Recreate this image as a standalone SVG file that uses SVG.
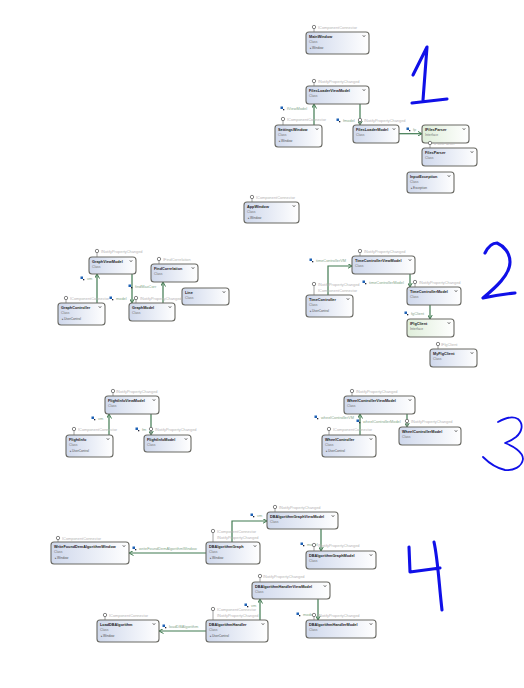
<svg xmlns="http://www.w3.org/2000/svg" width="524" height="688" viewBox="0 0 524 688">
<style>
text{font-family:"Liberation Sans",Arial,sans-serif}
.b{fill:url(#cg);stroke:#6a6a64;stroke-width:1.100}
.i{fill:url(#ig);stroke:#6a6a64;stroke-width:1.100}
.t{font-size:3.800px;font-weight:bold;fill:#222}
.s{font-size:3.400px;fill:#777}
.m{font-size:3.200px;fill:#555}
.l{font-size:3.900px;fill:#b5b5b5}
.c{font-size:3.900px;fill:#86a88c}
.w{fill:none;stroke:#3f7a50;stroke-width:1.200}
.h{fill:none;stroke:#1010e8;stroke-width:3.100;stroke-linecap:round;stroke-linejoin:round}
.n{stroke-width:1.800}
.p{fill:#fff;stroke:#666;stroke-width:.8}
.q{stroke:#888;stroke-width:.8}
.v{fill:none;stroke:#444;stroke-width:.7}
</style>
<defs>
<linearGradient id="cg"><stop offset="0" stop-color="#cfd8ec"/><stop offset="1" stop-color="#fff"/></linearGradient>
<linearGradient id="ig"><stop offset="0" stop-color="#dfeeda"/><stop offset="1" stop-color="#fff"/></linearGradient>
<marker id="a" markerWidth="5" markerHeight="5" refX="4.500" refY="2.500" orient="auto" markerUnits="userSpaceOnUse"><path d="M0 0L4.500 2.500L0 5" fill="none" stroke="#3f7a50" stroke-width="1"/></marker>
<g id="k"><rect x="-1.500" y="-1.500" width="2.500" height="2.500" fill="#1f62b5"/><rect x="1" y="1" width="1.300" height="1.300" fill="#223"/></g>
<path id="e" class="v" d="M-1.300 -.8L0 .8L1.300 -.8"/>
</defs>
<g id="connectors">
<path class="w" marker-end="url(#a)" d="M314 125V104"/>
<path class="w" marker-end="url(#a)" d="M360 104V125"/>
<path class="w" marker-end="url(#a)" d="M399 133.700H422"/>
<path class="w" marker-end="url(#a)" d="M97 303V274"/>
<path class="w" marker-end="url(#a)" d="M132 274V303"/>
<path class="w" marker-end="url(#a)" d="M163 303V282"/>
<path class="w" marker-end="url(#a)" d="M328 295V266H352"/>
<path class="w" marker-end="url(#a)" d="M410 274V287"/>
<path class="w" marker-end="url(#a)" d="M430 305V319"/>
<path class="w" marker-end="url(#a)" d="M109 435V414"/>
<path class="w" marker-end="url(#a)" d="M151 414V435"/>
<path class="w" marker-end="url(#a)" d="M360 435V414"/>
<path class="w" marker-end="url(#a)" d="M407 414V427"/>
<path class="w" marker-end="url(#a)" d="M206 553H129"/>
<path class="w" marker-end="url(#a)" d="M232 542V521H267"/>
<path class="w" marker-end="url(#a)" d="M206 631H159"/>
<path class="w" marker-end="url(#a)" d="M260 620V599"/>
<path class="w" marker-end="url(#a)" d="M321 529V551"/>
<path class="w" marker-end="url(#a)" d="M318 599V620"/>
<use href="#k" x="282" y="108"/><text class="c" x="287" y="109.500">fViewModel</text>
<use href="#k" x="338" y="120"/><text class="c" x="343" y="121.500">fmodel</text>
<use href="#k" x="408" y="129"/><text class="c" x="413" y="130.500">fp</text>
<use href="#k" x="82" y="278"/><text class="c" x="87" y="279.500">vm</text>
<use href="#k" x="130" y="286"/><text class="c" x="135" y="287.500">findMaxCorr</text>
<use href="#k" x="111" y="298"/><text class="c" x="116" y="299.500">model</text>
<use href="#k" x="311" y="260"/><text class="c" x="316" y="261.500">timeControllerVM</text>
<use href="#k" x="364" y="282"/><text class="c" x="369" y="283.500">timeControllerModel</text>
<use href="#k" x="406" y="313"/><text class="c" x="411" y="314.500">fgClient</text>
<use href="#k" x="93" y="418"/><text class="c" x="98" y="419.500">vm</text>
<use href="#k" x="137" y="429"/><text class="c" x="142" y="430.500">fm</text>
<use href="#k" x="316" y="417"/><text class="c" x="321" y="418.500">wheelControllerVM</text>
<use href="#k" x="358" y="421"/><text class="c" x="363" y="422.500">wheelControllerModel</text>
<use href="#k" x="134" y="548"/><text class="c" x="139" y="549.500">writeFoundDemAlgorithmWindow</text>
<use href="#k" x="252" y="515"/><text class="c" x="257" y="516.500">vm</text>
<use href="#k" x="164" y="626"/><text class="c" x="169" y="627.500">loadDBAlgorithm</text>
<use href="#k" x="246" y="605"/><text class="c" x="251" y="606.500">vm</text>
<use href="#k" x="302" y="544"/><text class="c" x="307" y="545.500">model</text>
<use href="#k" x="298" y="614"/><text class="c" x="303" y="615.500">model</text>
</g>
<g id="MainWindow"><path class="q" d="M314 27V32"/><circle class="p" cx="314" cy="27" r="1.700"/><text class="l" x="318" y="28.500">IComponentConnector</text><rect class="b" x="306" y="32" width="63" height="22" rx="3"/><text class="t" x="309" y="37.500">MainWindow</text><text class="s" x="309" y="43">Class</text><text class="m" x="310" y="48.500">▸Window</text><use href="#e" x="364" y="36"/></g>
<g id="FilesLoaderViewModel"><path class="q" d="M314 81V86"/><circle class="p" cx="314" cy="81" r="1.700"/><text class="l" x="318" y="82.500">INotifyPropertyChanged</text><rect class="b" x="306" y="86" width="63" height="18" rx="3"/><text class="t" x="309" y="91.500">FilesLoaderViewModel</text><text class="s" x="309" y="97">Class</text><use href="#e" x="364" y="90"/></g>
<g id="SettingsWindow"><path class="q" d="M283 119V125"/><circle class="p" cx="283" cy="119" r="1.700"/><text class="l" x="287" y="120.500">IComponentConnector</text><rect class="b" x="275" y="125" width="47" height="22" rx="3"/><text class="t" x="278" y="130.500">SettingsWindow</text><text class="s" x="278" y="136">Class</text><text class="m" x="279" y="141.500">▸Window</text><use href="#e" x="317" y="129"/></g>
<g id="FilesLoaderModel"><path class="q" d="M360 120V125"/><circle class="p" cx="360" cy="120" r="1.700"/><text class="l" x="364" y="121.500">INotifyPropertyChanged</text><rect class="b" x="353" y="125" width="46" height="18" rx="3"/><text class="t" x="356" y="130.500">FilesLoaderModel</text><text class="s" x="356" y="136">Class</text><use href="#e" x="394" y="129"/></g>
<g id="IFilesParser"><rect class="i" x="422" y="125" width="47" height="18" rx="3"/><text class="t" x="425" y="130.500">IFilesParser</text><text class="s" x="425" y="136">Interface</text><use href="#e" x="464" y="129"/></g>
<g id="FilesParser"><path class="q" d="M430 143V148"/><circle class="p" cx="430" cy="143" r="1.700"/><text class="l" x="434" y="144.500">IFilesParser</text><rect class="b" x="422" y="148" width="55" height="18" rx="3"/><text class="t" x="425" y="153.500">FilesParser</text><text class="s" x="425" y="159">Class</text><use href="#e" x="472" y="152"/></g>
<g id="InputException"><rect class="b" x="407" y="172" width="47" height="21" rx="3"/><text class="t" x="410" y="177.500">InputException</text><text class="s" x="410" y="183">Class</text><text class="m" x="411" y="188.500">▸Exception</text><use href="#e" x="449" y="176"/></g>
<g id="AppWindow"><path class="q" d="M252 197V202"/><circle class="p" cx="252" cy="197" r="1.700"/><text class="l" x="256" y="198.500">IComponentConnector</text><rect class="b" x="244" y="202" width="55" height="21" rx="3"/><text class="t" x="247" y="207.500">AppWindow</text><text class="s" x="247" y="213">Class</text><text class="m" x="248" y="218.500">▸Window</text><use href="#e" x="294" y="206"/></g>
<g id="GraphViewModel"><path class="q" d="M97 251V257"/><circle class="p" cx="97" cy="251" r="1.700"/><text class="l" x="101" y="252.500">INotifyPropertyChanged</text><rect class="b" x="89" y="257" width="47" height="17" rx="3"/><text class="t" x="92" y="262.500">GraphViewModel</text><text class="s" x="92" y="268">Class</text><use href="#e" x="131" y="261"/></g>
<g id="FindCorrelation"><path class="q" d="M159 259V264"/><circle class="p" cx="159" cy="259" r="1.700"/><text class="l" x="163" y="260.500">IFindCorrelation</text><rect class="b" x="151" y="264" width="47" height="18" rx="3"/><text class="t" x="154" y="269.500">FindCorrelation</text><text class="s" x="154" y="275">Class</text><use href="#e" x="193" y="268"/></g>
<g id="Line"><rect class="b" x="182" y="288" width="47" height="17" rx="3"/><text class="t" x="185" y="293.500">Line</text><text class="s" x="185" y="299">Class</text><use href="#e" x="224" y="292"/></g>
<g id="GraphController"><path class="q" d="M66 298V303"/><circle class="p" cx="66" cy="298" r="1.700"/><text class="l" x="70" y="299.500">IComponentConnector</text><rect class="b" x="58" y="303" width="47" height="22" rx="3"/><text class="t" x="61" y="308.500">GraphController</text><text class="s" x="61" y="314">Class</text><text class="m" x="62" y="319.500">▸UserControl</text><use href="#e" x="100" y="307"/></g>
<g id="GraphModel"><path class="q" d="M136 298V303"/><circle class="p" cx="136" cy="298" r="1.700"/><text class="l" x="140" y="299.500">INotifyPropertyChanged</text><rect class="b" x="129" y="303" width="46" height="18" rx="3"/><text class="t" x="132" y="308.500">GraphModel</text><text class="s" x="132" y="314">Class</text><use href="#e" x="170" y="307"/></g>
<g id="TimeControllerViewModel"><path class="q" d="M360 251V256"/><circle class="p" cx="360" cy="251" r="1.700"/><text class="l" x="364" y="252.500">INotifyPropertyChanged</text><rect class="b" x="352" y="256" width="63" height="18" rx="3"/><text class="t" x="355" y="261.500">TimeControllerViewModel</text><text class="s" x="355" y="267">Class</text><use href="#e" x="410" y="260"/></g>
<g id="TimeController"><path class="q" d="M314 284V295"/><circle class="p" cx="314" cy="284" r="1.700"/><text class="l" x="318" y="285.500">INotifyPropertyChanged</text><text class="l" x="318" y="291.500">IComponentConnector</text><rect class="b" x="306" y="295" width="47" height="22" rx="3"/><text class="t" x="309" y="300.500">TimeController</text><text class="s" x="309" y="306">Class</text><text class="m" x="310" y="311.500">▸UserControl</text><use href="#e" x="348" y="299"/></g>
<g id="TimeControllerModel"><path class="q" d="M415 282V287"/><circle class="p" cx="415" cy="282" r="1.700"/><text class="l" x="419" y="283.500">INotifyPropertyChanged</text><rect class="b" x="407" y="287" width="54" height="18" rx="3"/><text class="t" x="410" y="292.500">TimeControllerModel</text><text class="s" x="410" y="298">Class</text><use href="#e" x="456" y="291"/></g>
<g id="IFlgClient"><rect class="i" x="407" y="319" width="47" height="18" rx="3"/><text class="t" x="410" y="324.500">IFlgClient</text><text class="s" x="410" y="330">Interface</text><use href="#e" x="449" y="323"/></g>
<g id="MyFlgClient"><path class="q" d="M438 344V349"/><circle class="p" cx="438" cy="344" r="1.700"/><text class="l" x="441" y="345.500">IFlgClient</text><rect class="b" x="430" y="349" width="47" height="18" rx="3"/><text class="t" x="433" y="354.500">MyFlgClient</text><text class="s" x="433" y="360">Class</text><use href="#e" x="472" y="353"/></g>
<g id="FlightInfoViewModel"><path class="q" d="M113 391V396"/><circle class="p" cx="113" cy="391" r="1.700"/><text class="l" x="116" y="392.500">INotifyPropertyChanged</text><rect class="b" x="105" y="396" width="54" height="18" rx="3"/><text class="t" x="108" y="401.500">FlightInfoViewModel</text><text class="s" x="108" y="407">Class</text><use href="#e" x="154" y="400"/></g>
<g id="FlightInfo"><path class="q" d="M74 429V435"/><circle class="p" cx="74" cy="429" r="1.700"/><text class="l" x="78" y="430.500">IComponentConnector</text><rect class="b" x="66" y="435" width="47" height="22" rx="3"/><text class="t" x="69" y="440.500">FlightInfo</text><text class="s" x="69" y="446">Class</text><text class="m" x="70" y="451.500">▸UserControl</text><use href="#e" x="108" y="439"/></g>
<g id="FlightInfoModel"><path class="q" d="M151 429V435"/><circle class="p" cx="151" cy="429" r="1.700"/><text class="l" x="155" y="430.500">INotifyPropertyChanged</text><rect class="b" x="144" y="435" width="47" height="17" rx="3"/><text class="t" x="147" y="440.500">FlightInfoModel</text><text class="s" x="147" y="446">Class</text><use href="#e" x="186" y="439"/></g>
<g id="WheelControllerViewModel"><path class="q" d="M352 391V396"/><circle class="p" cx="352" cy="391" r="1.700"/><text class="l" x="356" y="392.500">INotifyPropertyChanged</text><rect class="b" x="344" y="396" width="71" height="18" rx="3"/><text class="t" x="347" y="401.500">WheelControllerViewModel</text><text class="s" x="347" y="407">Class</text><use href="#e" x="410" y="400"/></g>
<g id="WheelControllerModel"><path class="q" d="M407 421V427"/><circle class="p" cx="407" cy="421" r="1.700"/><text class="l" x="411" y="422.500">INotifyPropertyChanged</text><rect class="b" x="399" y="427" width="62" height="18" rx="3"/><text class="t" x="402" y="432.500">WheelControllerModel</text><text class="s" x="402" y="438">Class</text><use href="#e" x="456" y="431"/></g>
<g id="WheelController"><path class="q" d="M329 429V435"/><circle class="p" cx="329" cy="429" r="1.700"/><text class="l" x="333" y="430.500">IComponentConnector</text><rect class="b" x="322" y="435" width="54" height="22" rx="3"/><text class="t" x="325" y="440.500">WheelController</text><text class="s" x="325" y="446">Class</text><text class="m" x="326" y="451.500">▸UserControl</text><use href="#e" x="371" y="439"/></g>
<g id="WriteFoundDemAlgorithmWindow"><path class="q" d="M58 538V542"/><circle class="p" cx="58" cy="538" r="1.700"/><text class="l" x="62" y="539.500">IComponentConnector</text><rect class="b" x="51" y="542" width="78" height="22" rx="3"/><text class="t" x="54" y="547.500">WriteFoundDemAlgorithmWindow</text><text class="s" x="54" y="553">Class</text><text class="m" x="55" y="558.500">▸Window</text><use href="#e" x="124" y="546"/></g>
<g id="DBAlgorithmGraph"><path class="q" d="M213 531V542"/><circle class="p" cx="213" cy="531" r="1.700"/><text class="l" x="217" y="532.500">IComponentConnector</text><text class="l" x="217" y="538.500">INotifyPropertyChanged</text><rect class="b" x="206" y="542" width="54" height="22" rx="3"/><text class="t" x="209" y="547.500">DBAlgorithmGraph</text><text class="s" x="209" y="553">Class</text><text class="m" x="210" y="558.500">▸Window</text><use href="#e" x="255" y="546"/></g>
<g id="LoadDBAlgorithm"><path class="q" d="M105 615V620"/><circle class="p" cx="105" cy="615" r="1.700"/><text class="l" x="109" y="616.500">IComponentConnector</text><rect class="b" x="97" y="620" width="62" height="22" rx="3"/><text class="t" x="100" y="625.500">LoadDBAlgorithm</text><text class="s" x="100" y="631">Class</text><text class="m" x="101" y="636.500">▸Window</text><use href="#e" x="154" y="624"/></g>
<g id="DBAlgorithmHandler"><path class="q" d="M213 609V620"/><circle class="p" cx="213" cy="609" r="1.700"/><text class="l" x="217" y="610.500">IComponentConnector</text><text class="l" x="217" y="616.500">INotifyPropertyChanged</text><rect class="b" x="206" y="620" width="62" height="22" rx="3"/><text class="t" x="209" y="625.500">DBAlgorithmHandler</text><text class="s" x="209" y="631">Class</text><text class="m" x="210" y="636.500">▸UserControl</text><use href="#e" x="263" y="624"/></g>
<g id="DBAlgorithmGraphViewModel"><path class="q" d="M275 507V512"/><circle class="p" cx="275" cy="507" r="1.700"/><text class="l" x="279" y="508.500">INotifyPropertyChanged</text><rect class="b" x="267" y="512" width="71" height="17" rx="3"/><text class="t" x="270" y="517.500">DBAlgorithmGraphViewModel</text><text class="s" x="270" y="523">Class</text><use href="#e" x="333" y="516"/></g>
<g id="DBAlgorithmGraphModel"><path class="q" d="M314 545V551"/><circle class="p" cx="314" cy="545" r="1.700"/><text class="l" x="318" y="546.500">INotifyPropertyChanged</text><rect class="b" x="306" y="551" width="70" height="18" rx="3"/><text class="t" x="309" y="556.500">DBAlgorithmGraphModel</text><text class="s" x="309" y="562">Class</text><use href="#e" x="371" y="555"/></g>
<g id="DBAlgorithmHandlerViewModel"><path class="q" d="M260 576V582"/><circle class="p" cx="260" cy="576" r="1.700"/><text class="l" x="263" y="577.500">INotifyPropertyChanged</text><rect class="b" x="252" y="582" width="78" height="17" rx="3"/><text class="t" x="255" y="587.500">DBAlgorithmHandlerViewModel</text><text class="s" x="255" y="593">Class</text><use href="#e" x="325" y="586"/></g>
<g id="DBAlgorithmHandlerModel"><path class="q" d="M314 615V620"/><circle class="p" cx="314" cy="615" r="1.700"/><text class="l" x="318" y="616.500">INotifyPropertyChanged</text><rect class="b" x="306" y="620" width="70" height="18" rx="3"/><text class="t" x="309" y="625.500">DBAlgorithmHandlerModel</text><text class="s" x="309" y="631">Class</text><use href="#e" x="371" y="624"/></g>
<g id="handwritten">
<path class="h" d="M413 75L427 47L423 100M412 103L447 99"/>
<path class="h" d="M485 253C488 247 492 243 497 243C504 246 510 253 510 262C510 275 495 288 483 298C492 296 505 294 515 293"/>
<path class="h n" d="M498 422C505 418 513 416 518 419C524 424 522 432 516 437C512 440 508 442 505 443C513 446 523 452 523 459C522 467 513 471 505 470C496 468 489 463 483 457"/>
<path class="h" d="M409 547L410 572L440 568M434 542C438 560 439 585 442 610"/>
</g>
</svg>
